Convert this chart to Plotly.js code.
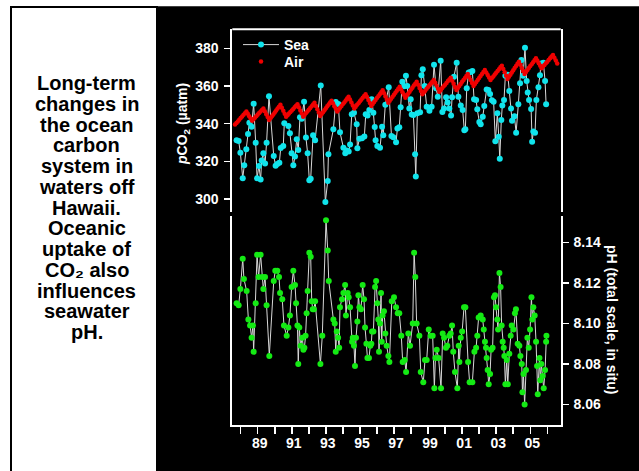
<!DOCTYPE html>
<html>
<head>
<meta charset="utf-8">
<script src="https://cdn.plot.ly/plotly-3.0.1.min.js"></script>
<style>html,body{margin:0;padding:0;background:#fff;}#chart{width:639px;height:471px;}</style>
</head>
<body>
<div id="chart"></div>
<script>
// ---- Data ----
const seaYear = [1987.76,1987.88,1987.98,1988.12,1988.21,1988.33,1988.43,1988.51,1988.64,1988.76,1988.88,1988.96,1989.07,1989.17,1989.23,1989.33,1989.43,1989.52,1989.66,1989.94,1990.05,1990.15,1990.27,1990.35,1990.50,1990.56,1990.80,1990.89,1990.99,1991.09,1991.19,1991.29,1991.38,1991.48,1991.58,1991.72,1991.83,1991.93,1992.03,1992.11,1992.25,1992.37,1992.70,1992.97,1993.11,1993.15,1993.44,1993.58,1993.73,1993.83,1994.03,1994.14,1994.22,1994.34,1994.42,1994.52,1994.65,1994.81,1994.85,1994.97,1995.12,1995.26,1995.34,1995.45,1995.55,1995.69,1995.79,1995.87,1995.92,1996.02,1996.18,1996.30,1996.37,1996.49,1996.69,1996.85,1996.96,1997.12,1997.20,1997.31,1997.39,1997.49,1997.59,1997.70,1997.78,1997.90,1997.98,1998.04,1998.14,1998.24,1998.28,1998.37,1998.53,1998.61,1998.69,1998.80,1998.92,1999.08,1999.21,1999.35,1999.47,1999.57,1999.74,1999.84,1999.94,2000.06,2000.15,2000.25,2000.35,2000.41,2000.52,2000.68,2000.78,2000.92,2001.03,2001.13,2001.19,2001.27,2001.39,2001.50,2001.60,2001.70,2001.82,2001.89,2002.01,2002.09,2002.21,2002.30,2002.44,2002.54,2002.64,2002.75,2002.85,2002.95,2003.07,2003.15,2003.21,2003.30,2003.36,2003.46,2003.54,2003.68,2003.77,2003.87,2003.93,2004.07,2004.17,2004.30,2004.40,2004.48,2004.58,2004.69,2004.79,2004.85,2004.93,2005.05,2005.11,2005.18,2005.28,2005.36,2005.48,2005.57,2005.63,2005.77,2005.87,2005.93];
const seaPco2 = [331.2,330.8,324.6,311.0,317.9,326.4,334.5,340.5,338.4,350.6,329.9,311.0,317.5,310.4,320.4,324.3,318.9,329.9,354.5,322.8,317.7,318.6,319.3,327.1,328.1,340.2,338.8,334.9,324.3,317.9,322.5,331.7,326.0,343.4,342.6,351.7,332.7,324.3,309.9,310.8,333.8,331.2,360.3,298.4,309.6,323.7,337.0,351.5,350.4,335.4,327.2,324.3,325.7,325.2,329.0,345.0,345.8,339.7,326.9,332.0,332.2,333.2,345.0,344.3,347.3,352.9,345.8,338.2,331.2,328.1,327.2,338.4,333.8,350.1,359.3,333.5,332.8,330.1,337.4,338.1,348.7,362.3,359.8,365.5,360.0,348.0,352.9,344.8,344.6,323.7,312.0,345.5,346.0,365.7,368.9,360.0,349.0,346.9,349.0,371.3,358.8,354.3,373.4,346.2,348.0,354.0,351.3,348.1,344.3,354.0,364.9,372.4,354.3,349.7,347.3,336.5,337.0,358.8,367.1,367.4,368.0,352.9,352.6,347.6,340.9,339.7,343.7,349.4,358.2,357.9,355.8,352.4,351.7,330.6,345.5,333.1,321.4,341.9,349.7,352.6,365.5,366.0,357.3,348.0,341.6,343.9,335.2,350.3,361.4,373.8,365.5,380.3,362.6,356.6,352.6,347.8,330.4,335.8,335.2,352.6,359.3,365.7,372.0,372.4,362.6,350.3];

// Air pCO2, monthly values starting September 1987
const airStartYear = 1987;
const airStartMonth = 8; // 0 = January
const airPco2 = [
  339.5,340.4,341.2,342.1,
  343.0,343.8,344.7,345.5,346.4,345.2,344.0,342.8,341.6,342.4,343.2,344.0,
  344.9,345.7,346.5,347.3,348.1,346.6,345.0,343.5,341.9,342.9,343.9,344.9,
  345.9,347.0,348.0,349.0,350.0,348.4,346.9,345.3,343.7,344.5,345.4,346.2,
  347.0,347.8,348.7,349.5,350.3,348.7,347.0,345.4,343.7,344.6,345.6,346.5,
  347.4,348.3,349.3,350.2,351.1,349.4,347.6,345.9,344.1,345.1,346.1,347.1,
  348.2,349.2,350.2,351.2,352.2,350.8,349.3,347.9,346.4,347.4,348.4,349.4,
  350.4,351.3,352.3,353.3,354.3,352.8,351.2,349.7,348.1,349.0,350.0,350.9,
  351.9,352.8,353.7,354.7,355.6,354.1,352.5,351.0,349.4,350.4,351.5,352.5,
  353.6,354.6,355.6,356.7,357.7,356.1,354.4,352.8,351.1,352.2,353.2,354.3,
  355.4,356.4,357.5,358.5,359.6,358.2,356.7,355.3,353.8,354.9,355.9,357.0,
  358.1,359.1,360.2,361.2,362.3,360.6,359.0,357.3,355.6,356.6,357.5,358.5,
  359.4,360.4,361.3,362.3,363.2,361.7,360.1,358.6,357.0,357.9,358.9,359.8,
  360.7,361.6,362.6,363.5,364.4,362.8,361.2,359.5,357.9,359.0,360.0,361.1,
  362.2,363.2,364.3,365.3,366.4,364.8,363.2,361.6,360.0,361.1,362.1,363.2,
  364.3,365.3,366.4,367.4,368.5,367.2,365.9,364.5,363.2,364.2,365.1,366.1,
  367.0,368.0,368.9,369.9,370.8,369.0,367.3,365.5,363.7,364.9,366.0,367.2,
  368.3,369.5,370.6,371.8,372.9,371.3,369.6,368.0,366.4,367.4,368.5,369.5,
  370.6,371.6,372.6,373.7,374.7,373.4,372.1,370.7,369.4,370.3,371.2,372.1,
  372.9,373.8,374.7,375.6,376.5,375.0,373.5,372.0
];

const phYear = [1987.76,1987.88,1987.98,1988.12,1988.19,1988.35,1988.45,1988.55,1988.64,1988.72,1988.76,1988.88,1988.96,1989.05,1989.17,1989.27,1989.33,1989.43,1989.52,1989.68,1989.94,1990.03,1990.15,1990.25,1990.31,1990.44,1990.54,1990.70,1990.80,1990.89,1990.99,1991.09,1991.19,1991.25,1991.33,1991.38,1991.44,1991.52,1991.62,1991.68,1991.74,1991.81,1991.87,1991.93,1992.03,1992.11,1992.17,1992.23,1992.30,1992.37,1992.68,1992.79,1993.01,1993.11,1993.17,1993.44,1993.52,1993.58,1993.64,1993.72,1993.78,1993.83,1993.95,1994.03,1994.13,1994.18,1994.28,1994.34,1994.42,1994.54,1994.58,1994.65,1994.71,1994.77,1994.85,1994.91,1994.97,1995.06,1995.16,1995.24,1995.30,1995.38,1995.44,1995.53,1995.61,1995.67,1995.71,1995.79,1995.89,1995.95,1996.02,1996.08,1996.12,1996.18,1996.24,1996.28,1996.33,1996.41,1996.49,1996.57,1996.67,1996.73,1996.87,1997.00,1997.12,1997.22,1997.31,1997.43,1997.51,1997.63,1997.71,1997.84,1997.94,1998.10,1998.18,1998.25,1998.33,1998.49,1998.57,1998.72,1998.82,1998.92,1999.04,1999.15,1999.27,1999.37,1999.43,1999.51,1999.62,1999.76,1999.86,1999.94,2000.05,2000.13,2000.25,2000.33,2000.41,2000.48,2000.58,2000.72,2000.80,2000.84,2000.92,2001.00,2001.11,2001.19,2001.35,2001.44,2001.60,2001.72,2001.82,2001.89,2001.97,2002.09,2002.21,2002.27,2002.34,2002.40,2002.44,2002.50,2002.56,2002.64,2002.70,2002.79,2002.87,2002.93,2002.99,2003.07,2003.11,2003.19,2003.26,2003.32,2003.38,2003.44,2003.48,2003.54,2003.62,2003.68,2003.77,2003.85,2003.91,2004.01,2004.10,2004.16,2004.26,2004.36,2004.42,2004.50,2004.54,2004.60,2004.67,2004.75,2004.83,2004.91,2004.99,2005.07,2005.12,2005.18,2005.26,2005.34,2005.40,2005.44,2005.54,2005.59,2005.65,2005.73,2005.79,2005.87,2005.93,2005.95];
const phValue = [8.110,8.109,8.117,8.132,8.122,8.116,8.102,8.099,8.093,8.099,8.086,8.110,8.134,8.123,8.134,8.123,8.117,8.123,8.109,8.084,8.121,8.126,8.126,8.123,8.115,8.112,8.099,8.094,8.098,8.104,8.118,8.126,8.119,8.110,8.099,8.080,8.098,8.089,8.093,8.087,8.088,8.094,8.105,8.116,8.135,8.133,8.111,8.107,8.107,8.111,8.080,8.094,8.151,8.136,8.121,8.102,8.100,8.086,8.096,8.093,8.088,8.108,8.112,8.115,8.119,8.104,8.115,8.113,8.108,8.091,8.093,8.089,8.079,8.093,8.101,8.114,8.108,8.107,8.119,8.112,8.098,8.090,8.083,8.083,8.089,8.090,8.096,8.096,8.118,8.121,8.110,8.102,8.086,8.100,8.115,8.091,8.104,8.106,8.095,8.089,8.084,8.081,8.111,8.113,8.108,8.105,8.105,8.094,8.081,8.082,8.076,8.095,8.089,8.100,8.135,8.123,8.100,8.094,8.076,8.071,8.082,8.082,8.097,8.094,8.094,8.068,8.083,8.087,8.083,8.068,8.095,8.093,8.088,8.089,8.094,8.095,8.099,8.086,8.076,8.068,8.089,8.081,8.093,8.096,8.108,8.108,8.081,8.071,8.071,8.086,8.088,8.094,8.103,8.104,8.102,8.097,8.091,8.088,8.083,8.077,8.070,8.075,8.087,8.088,8.113,8.114,8.108,8.102,8.097,8.125,8.118,8.099,8.091,8.088,8.084,8.070,8.082,8.070,8.085,8.094,8.099,8.097,8.105,8.107,8.090,8.089,8.084,8.080,8.066,8.075,8.060,8.077,8.093,8.088,8.097,8.113,8.102,8.108,8.104,8.091,8.079,8.065,8.083,8.072,8.080,8.074,8.068,8.077,8.091,8.094];

const labelYears = [1989,1991,1993,1995,1997,1999,2001,2003,2005];
const labelText = ['89','91','93','95','97','99','01','03','05'];
const unlabelledYears = [1988,1990,1992,1994,1996,1998,2000,2002,2004,2006];
const pco2Ticks = [300,320,340,360,380];
const phTicks = [8.06,8.08,8.10,8.12,8.14];
const sideText = ['Long-term','changes in','the ocean','carbon','system in','waters off','Hawaii.','Oceanic','uptake of','CO\u2082 also','influences','seawater','pH.'];

// ---- Build ----
const airYear = airPco2.map((_, i) => airStartYear + (airStartMonth + i) / 12);

const W = 639, H = 471;
const px = v => v / W;
const py = v => 1 - v / H;
const FONT = 'Arial, "Liberation Sans", sans-serif';
const white = '#ffffff';

const traces = [
  {x: seaYear, y: seaPco2, type: 'scatter', mode: 'lines+markers', name: 'Sea',
   line: {color: '#d8d8d8', width: 1}, marker: {color: '#10e4ec', size: 6},
   xaxis: 'x', yaxis: 'y', cliponaxis: false, legend: 'legend'},
  {x: airYear, y: airPco2, type: 'scatter', mode: 'markers', name: 'Air',
   marker: {color: '#f00000', size: 4.5}, xaxis: 'x', yaxis: 'y', cliponaxis: false, legend: 'legend2'},
  {x: phYear, y: phValue, type: 'scatter', mode: 'lines+markers', name: 'pH',
   line: {color: '#d8d8d8', width: 1}, marker: {color: '#14ea14', size: 6},
   xaxis: 'x', yaxis: 'y2', showlegend: false, cliponaxis: false}
];

const tickFont = {family: FONT, size: 14, color: white, weight: 'bold'};
const legendFont = {family: FONT, size: 14, color: white, weight: 'bold'};

const annotations = [
  {xref: 'paper', yref: 'paper', x: px(183), y: py(124), textangle: -90, showarrow: false,
   xanchor: 'center', yanchor: 'middle',
   text: '<i>p</i>CO<sub>2</sub> (µatm)', font: {family: FONT, size: 14, color: white, weight: 'bold'}},
  {xref: 'paper', yref: 'paper', x: px(612), y: py(319), textangle: 90, showarrow: false,
   xanchor: 'center', yanchor: 'middle',
   text: 'pH (total scale, in situ)', font: {family: FONT, size: 14, color: white, weight: 'bold'}}
];
sideText.forEach((t, i) => {
  annotations.push({xref: 'paper', yref: 'paper', x: px(86.5), y: py(83 + i * 20.75),
    xanchor: 'center', yanchor: 'middle', showarrow: false, text: t,
    font: {family: FONT, size: 20, color: '#000000', weight: 'bold'}});
});

const layout = {
  width: W, height: H,
  margin: {l: 0, r: 0, t: 0, b: 0, pad: 0},
  paper_bgcolor: '#ffffff',
  plot_bgcolor: 'rgba(0,0,0,0)',
  showlegend: true,
  legend: {x: px(238), y: py(45), xanchor: 'left', yanchor: 'middle', bgcolor: 'rgba(0,0,0,0)',
    font: legendFont, itemwidth: 36},
  legend2: {x: px(238), y: py(62), xanchor: 'left', yanchor: 'middle', bgcolor: 'rgba(0,0,0,0)',
    font: legendFont, itemwidth: 36},
  xaxis: {domain: [px(232.3), px(560.7)], range: [1987.507, 2006.787], anchor: 'y2',
    showline: true, linecolor: white, linewidth: 2, ticks: 'outside', ticklen: 7, tickwidth: 1.5,
    tickcolor: white, tickmode: 'array', tickvals: labelYears, ticktext: labelText,
    minor: {tickmode: 'array', tickvals: unlabelledYears, ticks: 'outside', ticklen: 7, tickwidth: 1.5, tickcolor: white, showgrid: false},
    tickfont: tickFont, showgrid: false, zeroline: false, ticklabelshift: 2, ticklabelstandoff: -3},
  yaxis: {domain: [py(212), py(29.3)], range: [293.1, 390.1], anchor: 'x', side: 'left',
    showline: true, mirror: true, linecolor: white, linewidth: 2, ticks: 'outside', ticklen: 6,
    tickwidth: 1.5, tickcolor: white, tickmode: 'array', tickvals: pco2Ticks, tickfont: tickFont,
    showgrid: false, zeroline: false, ticklabelstandoff: 3},
  yaxis2: {domain: [py(424.7), py(216)], range: [8.050, 8.1531], anchor: 'x', side: 'right',
    showline: true, mirror: true, linecolor: white, linewidth: 2, ticks: 'outside', ticklen: 6,
    tickwidth: 1.5, tickcolor: white, tickmode: 'array', tickvals: phTicks, tickformat: '.2f',
    tickfont: tickFont, showgrid: false, zeroline: false, ticklabelstandoff: 2},
  shapes: [
    {type: 'rect', xref: 'paper', yref: 'paper', x0: px(156.5), x1: 1.01, y0: -0.01, y1: py(6.3),
     fillcolor: '#000000', line: {width: 0}, layer: 'below'},
    {type: 'rect', xref: 'paper', yref: 'paper', x0: px(11), x1: px(157), y0: -0.05, y1: py(7),
     fillcolor: '#ffffff', line: {color: '#000000', width: 2}, layer: 'below'},
    {type: 'line', xref: 'paper', yref: 'paper', x0: px(232.3), x1: px(560.7), y0: py(29.3), y1: py(29.3),
     line: {color: white, width: 2}, layer: 'above'}
  ],
  annotations: annotations
};

Plotly.newPlot('chart', traces, layout, {displayModeBar: false, staticPlot: true});
</script>
</body>
</html>
